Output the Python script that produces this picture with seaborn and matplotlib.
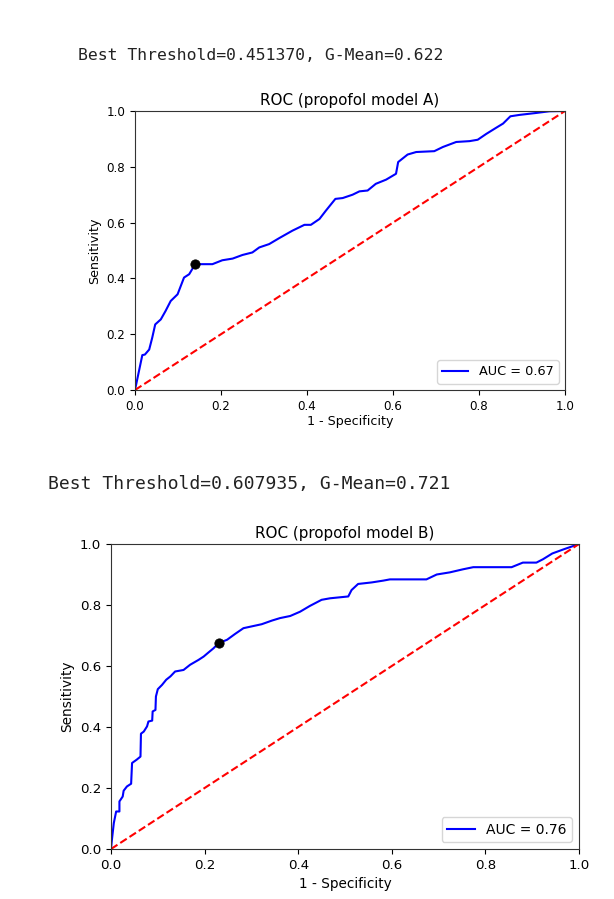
import matplotlib
matplotlib.use("Agg")
import matplotlib.pyplot as plt
import seaborn as sns
import numpy as np

# ---- data ----
fpr_a = [0.0, 0.017, 0.023, 0.033, 0.040, 0.047, 0.060, 0.071, 0.083, 0.099, 0.114, 0.126, 0.140,
         0.149, 0.180, 0.203, 0.227, 0.250, 0.273, 0.289, 0.312, 0.335, 0.366, 0.394, 0.409, 0.429,
         0.444, 0.466, 0.483, 0.506, 0.522, 0.541, 0.560, 0.584, 0.607, 0.612, 0.634, 0.654, 0.696,
         0.716, 0.747, 0.778, 0.797, 0.817, 0.840, 0.856, 0.873, 0.894, 0.933, 0.964, 1.0]
tpr_a = [0.0, 0.125, 0.127, 0.145, 0.187, 0.235, 0.253, 0.283, 0.319, 0.343, 0.403, 0.415, 0.451,
         0.451, 0.451, 0.465, 0.471, 0.484, 0.493, 0.511, 0.523, 0.544, 0.571, 0.592, 0.592, 0.613,
         0.643, 0.685, 0.688, 0.700, 0.712, 0.715, 0.739, 0.754, 0.775, 0.817, 0.844, 0.853, 0.856,
         0.871, 0.889, 0.892, 0.897, 0.918, 0.940, 0.955, 0.981, 0.986, 0.993, 0.999, 1.0]
best_a = (0.140, 0.451)
auc_a = "AUC = 0.67"
title_a = "ROC (propofol model A)"
note_a = "Best Threshold=0.451370, G-Mean=0.622"

fpr_b = [0.0, 0.002, 0.006, 0.011, 0.018, 0.018, 0.025, 0.027, 0.034, 0.043, 0.045, 0.055, 0.063,
         0.064, 0.070, 0.077, 0.080, 0.088, 0.089, 0.095, 0.096, 0.100, 0.109, 0.118, 0.127, 0.137,
         0.155, 0.169, 0.187, 0.198, 0.208, 0.219, 0.230, 0.248, 0.265, 0.283, 0.304, 0.322, 0.344,
         0.361, 0.383, 0.404, 0.425, 0.450, 0.468, 0.507, 0.514, 0.528, 0.557, 0.582, 0.596, 0.674,
         0.696, 0.724, 0.752, 0.774, 0.856, 0.880, 0.909, 0.923, 0.943, 0.968, 1.0]
tpr_b = [0.0, 0.031, 0.085, 0.123, 0.123, 0.156, 0.172, 0.191, 0.205, 0.214, 0.282, 0.293, 0.303,
         0.378, 0.385, 0.402, 0.418, 0.421, 0.451, 0.456, 0.500, 0.524, 0.538, 0.555, 0.566, 0.582,
         0.587, 0.604, 0.620, 0.631, 0.644, 0.658, 0.675, 0.686, 0.705, 0.724, 0.731, 0.737, 0.749,
         0.757, 0.764, 0.778, 0.797, 0.817, 0.822, 0.828, 0.849, 0.869, 0.874, 0.880, 0.884, 0.884,
         0.900, 0.907, 0.917, 0.924, 0.924, 0.939, 0.939, 0.950, 0.969, 0.983, 1.0]
best_b = (0.230, 0.675)
auc_b = "AUC = 0.76"
title_b = "ROC (propofol model B)"
note_b = "Best Threshold=0.607935, G-Mean=0.721"

ticks = [0.0, 0.2, 0.4, 0.6, 0.8, 1.0]
diag = [0.0, 1.0]

plt.rcParams['font.family'] = ['DejaVu Sans']
fig = plt.figure(figsize=(6.14, 8.99), dpi=100)
fig.patch.set_facecolor('white')

ax_a = fig.add_axes([135/614, 1-390/899, 430/614, 279/899])
ax_b = fig.add_axes([111/614, 1-849/899, 468/614, 305/899])


def draw(ax, fpr, tpr, best, auc, title, fs_tick, fs_lab, fs_leg, fs_title, xpad):
    sns.lineplot(x=fpr, y=tpr, ax=ax, color='blue', sort=False, estimator=None,
                 label=auc, linewidth=1.5)
    sns.lineplot(x=diag, y=diag, ax=ax, color='red', linestyle='--', sort=False,
                 estimator=None, linewidth=1.5)
    sns.scatterplot(x=[best[0]], y=[best[1]], ax=ax, color='black', s=45, zorder=5,
                    edgecolor='black')
    ax.set_xlim(0, 1)
    ax.set_ylim(0, 1)
    ax.set_xticks(ticks)
    ax.set_yticks(ticks)
    ax.set_xticklabels([f"{t:.1f}" for t in ticks], fontsize=fs_tick)
    ax.set_yticklabels([f"{t:.1f}" for t in ticks], fontsize=fs_tick)
    ax.set_xlabel("1 - Specificity", fontsize=fs_lab, labelpad=xpad)
    ax.set_ylabel("Sensitivity", fontsize=fs_lab, labelpad=4)
    ax.set_title(title, fontsize=fs_title, pad=4)
    for s in ax.spines.values():
        s.set_color('#333333')
    ax.legend(loc='lower right', fontsize=fs_leg, framealpha=0.8, handlelength=2)


draw(ax_a, fpr_a, tpr_a, best_a, auc_a, title_a, 8.6, 9.1, 9.3, 10.9, 2)
draw(ax_b, fpr_b, tpr_b, best_b, auc_b, title_b, 9.6, 9.8, 10.0, 10.9, 4)

fig.text(78/614, 1-56/899, note_a, family='DejaVu Sans Mono', fontsize=11.75,
         va='center', ha='left', color='#222222')
fig.text(48/614, 1-484/899, note_b, family='DejaVu Sans Mono', fontsize=13.0,
         va='center', ha='left', color='#222222')

fig.savefig("out.png", dpi=100, facecolor='white')
